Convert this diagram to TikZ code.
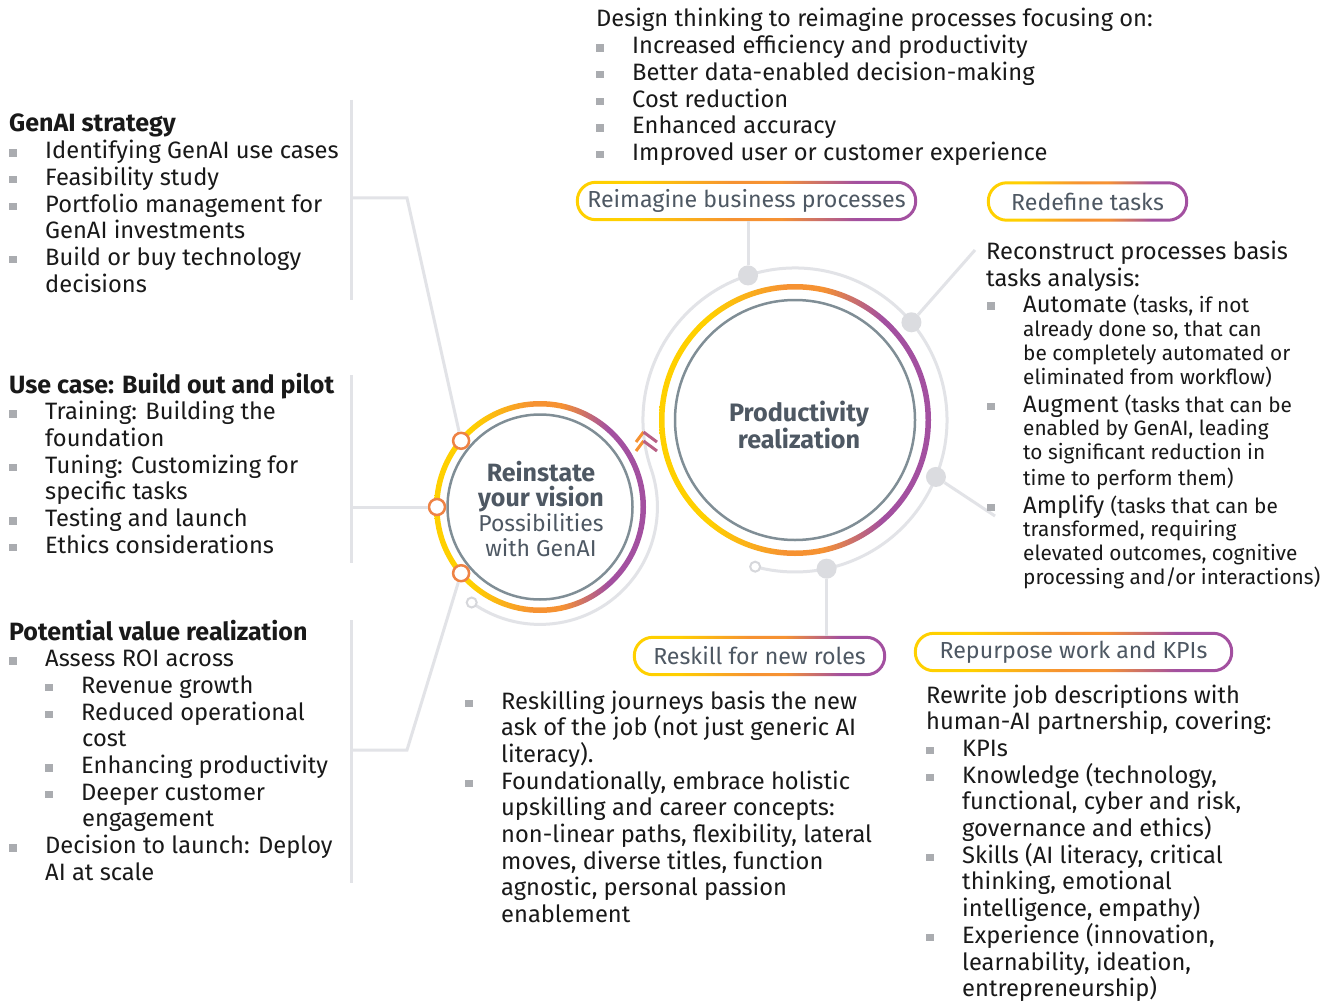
\documentclass[tikz,border=0pt]{standalone}
\usepackage{fontspec}
\setmainfont{Fira Sans}
\usetikzlibrary{calc}
\definecolor{yel}{RGB}{255,208,0}
\definecolor{ora}{RGB}{246,146,50}
\definecolor{pur}{RGB}{163,80,160}
\definecolor{slate}{RGB}{78,88,99}
\definecolor{gcirc}{RGB}{128,142,150}
\definecolor{trkc}{RGB}{226,227,231}
\definecolor{dotc}{RGB}{219,220,224}
\definecolor{opc}{RGB}{214,215,219}
\definecolor{bulc}{RGB}{170,172,176}
\definecolor{txtc}{RGB}{25,25,25}
\definecolor{nodec}{RGB}{238,130,68}
\pgfdeclarehorizontalshading{ring}{100bp}{color(0bp)=(yel); color(34bp)=(yel); color(48bp)=(ora); color(55bp)=(ora); color(66bp)=(pur); color(100bp)=(pur)}
\newcommand\bodyf{\fontsize{23.7}{26.7}\selectfont}
\newcommand\smallf{\fontsize{20.8}{24}\selectfont}
\newcommand\pillf{\fontsize{23.2}{26}\selectfont}
\newcommand\hd[1]{{\fontsize{25}{26.7}\selectfont\bfseries #1}}
\newcommand\bx{\makebox[36pt][l]{\textcolor{bulc}{\rule[2pt]{8pt}{7.5pt}}}}
\newcommand\ind{\hspace*{36pt}}
\newcommand\sind{\hspace*{73pt}}
% lines with a fixed baseline distance; the first baseline is the box baseline
\newcommand\lns[1]{\vtop{\baselineskip=26.7pt\lineskiplimit=-1000pt\lineskip=0pt\let\\\cr\halign{##\hfil\cr#1\crcr}}}
\newcommand\pill[4]{%
  \node[pilltxt, minimum width=#3] (#1) at #2 {#4};
  \shade[shading=ring, even odd rule] (#1.south west) [rounded corners=19.9pt] rectangle (#1.north east)
    ([xshift=3pt,yshift=3pt]#1.south west) [rounded corners=16.9pt] rectangle ([xshift=-3pt,yshift=-3pt]#1.north east);
}
\begin{document}
\begin{tikzpicture}[x=1pt,y=-1pt,
  trk/.style={draw=trkc, line width=3pt},
  txt/.style={anchor=base west, inner sep=0pt, text=txtc, font=\bodyf},
  pilltxt/.style={inner sep=0pt, minimum height=40pt, text=slate, font=\pillf},
  dotn/.style={circle, fill=dotc, minimum size=20pt, inner sep=0pt},
  opn/.style={circle, draw=opc, line width=2pt, fill=white, minimum size=10pt, inner sep=0pt},
  ringnode/.style={circle, draw=nodec, line width=2.5pt, fill=white, minimum size=16pt, inner sep=0pt},
  chev/.style={line width=3pt}]
\path[use as bounding box, fill=white] (0,0) rectangle (1336,1003);

\coordinate (B) at (795,420);
\coordinate (S) at (540,507);

% track
\draw[trk] ($(S)+(234.43:117.43pt)$) arc[start angle=234.43, end angle=378.84, radius=117.43pt]
  arc[start angle=198.84, end angle=-105.2, radius=152pt];

% pills
\pill{rp}{(746.5,201)}{341pt}{Reimagine business processes}
\pill{rt}{(1087.5,201.5)}{201pt}{Redefine tasks}
\pill{rs}{(759.5,656)}{253pt}{Reskill for new roles}
\pill{rk}{(1073.5,652)}{319pt}{Repurpose work and KPIs}

% dots
\node[dotn] (d1) at ($(B)+(108:152pt)$) {};
\node[dotn] (d2) at ($(B)+(40:152pt)$) {};
\node[dotn] (d3) at ($(B)+(-22:152pt)$) {};
\node[dotn] (d4) at ($(B)+(-78:152pt)$) {};
\node[opn] (o1) at ($(S)+(234.43:117.43pt)$) {};
\node[opn] (o2) at ($(B)+(-105.2:152pt)$) {};

\coordinate (c2) at (975,250);
\coordinate (c3) at (995,516);
\draw[trk] (d1) -- (d1 |- rp.south);
\draw[trk] (d2) -- (c2);
\draw[trk] (d3) -- (c3);
\draw[trk] (d4) -- (d4 |- rs.north);

% rings
\shade[shading=ring, even odd rule] (B) circle[radius=136pt] (B) circle[radius=130.5pt];
\draw[gcirc, line width=2.5pt] (B) circle[radius=120pt];
\shade[shading=ring, even odd rule] (S) circle[radius=106pt] (S) circle[radius=100.5pt];
\draw[gcirc, line width=2.5pt] (S) circle[radius=92.5pt];

% ring nodes
\node[ringnode] (n1) at ($(S)+(140:103pt)$) {};
\node[ringnode] (n2) at ($(S)+(180:103pt)$) {};
\node[ringnode] (n3) at ($(S)+(220:103pt)$) {};

% left bars and connectors
\coordinate (b1t) at (351,100); \coordinate (b1b) at (351,300);
\coordinate (b1m) at (351,198); \coordinate (k1) at (407,198);
\coordinate (b2t) at (351,375); \coordinate (b2b) at (351,563);
\coordinate (b2m) at (351,507);
\coordinate (b3t) at (351,620); \coordinate (b3b) at (351,883);
\coordinate (b3m) at (351,750); \coordinate (k3) at (407,750);
\draw[trk] (b1t) -- (b1b);
\draw[trk] (b2t) -- (b2b);
\draw[trk] (b3t) -- (b3b);
\draw[trk] (b1m) -- (k1) -- (n1);
\draw[trk] (b2m) -- (n2);
\draw[trk] (b3m) -- (k3) -- (n3);

% chevrons
\foreach \k in {0,9}{
  \draw[chev, ora] (636,{442+\k}) -- (643.5,{432+\k});
  \draw[chev, pur!75!ora] (643.5,{432+\k}) -- (657,{442+\k});
}

% centre texts
\node[align=center, text=slate, font=\bfseries\fontsize{25.2}{24}\selectfont] (pr) at (799,425) {Productivity\\realization};
\node[align=center, text=slate, font=\fontsize{23}{25}\selectfont] (rv) at (541,509) {{\fontsize{25}{25}\selectfont\bfseries Reinstate}\\{\fontsize{25}{25}\selectfont\bfseries your vision}\\Possibilities\\with GenAI};

% left texts
\node[txt] (l1) at (9,132) {\lns{%
\hd{GenAI strategy}\\
\bx Identifying GenAI use cases\\
\bx Feasibility study\\
\bx Portfolio management for\\
\ind GenAI investments\\
\bx Build or buy technology\\
\ind decisions}};
\node[txt] (l2) at (9,393) {\lns{%
\hd{Use case: Build out and pilot}\\
\bx Training: Building the\\
\ind foundation\\
\bx Tuning: Customizing for\\
\ind specific tasks\\
\bx Testing and launch\\
\bx Ethics considerations}};
\node[txt] (l3) at (9,640) {\lns{%
\hd{Potential value realization}\\
\bx Assess ROI across\\
\ind\bx Revenue growth\\
\ind\bx Reduced operational\\
\sind cost\\
\ind\bx Enhancing productivity\\
\ind\bx Deeper customer\\
\sind engagement\\
\bx Decision to launch: Deploy\\
\ind AI at scale}};

% top text
\node[txt] (tp) at (596,27) {\lns{%
Design thinking to reimagine processes focusing on:\\
\bx Increased efficiency and productivity\\
\bx Better data-enabled decision-making\\
\bx Cost reduction\\
\bx Enhanced accuracy\\
\bx Improved user or customer experience}};

% right text
\node[txt] (r1) at (986,259) {Reconstruct processes basis};
\node[txt] (r2) at (986,286) {tasks analysis:};
\node[txt] (r3) at (987,312) {\bx Automate {\smallf (tasks, if not}};
\node[txt, font=\smallf] (r4) at (1023,336) {already done so, that can};
\node[txt, font=\smallf] (r5) at (1023,360) {be completely automated or};
\node[txt, font=\smallf] (r6) at (1023,384) {eliminated from workflow)};
\node[txt] (r7) at (987,412) {\bx Augment {\smallf (tasks that can be}};
\node[txt, font=\smallf] (r8) at (1023,435) {enabled by GenAI, leading};
\node[txt, font=\smallf] (r9) at (1023,459) {to significant reduction in};
\node[txt, font=\smallf] (r10) at (1023,485) {time to perform them)};
\node[txt] (r11) at (987,513) {\bx Amplify {\smallf (tasks that can be}};
\node[txt, font=\smallf] (r12) at (1023,536) {transformed, requiring};
\node[txt, font=\smallf] (r13) at (1023,560) {elevated outcomes, cognitive};
\node[txt, font=\smallf] (r14) at (1023,584) {processing and/or interactions)};

% reskill text
\node[txt] (rk1) at (465,709) {\lns{%
\bx Reskilling journeys basis the new\\
\ind ask of the job (not just generic AI\\
\ind literacy).\\
\bx Foundationally, embrace holistic\\
\ind upskilling and career concepts:\\
\ind non-linear paths, flexibility, lateral\\
\ind moves, diverse titles, function\\
\ind agnostic, personal passion\\
\ind enablement}};

% repurpose text
\node[txt] (rw1) at (926,703) {\lns{%
Rewrite job descriptions with\\
human-AI partnership, covering:\\
\bx KPIs\\
\bx Knowledge (technology,\\
\ind functional, cyber and risk,\\
\ind governance and ethics)\\
\bx Skills (AI literacy, critical\\
\ind thinking, emotional\\
\ind intelligence, empathy)\\
\bx Experience (innovation,\\
\ind learnability, ideation,\\
\ind entrepreneurship)}};
\end{tikzpicture}
\end{document}
